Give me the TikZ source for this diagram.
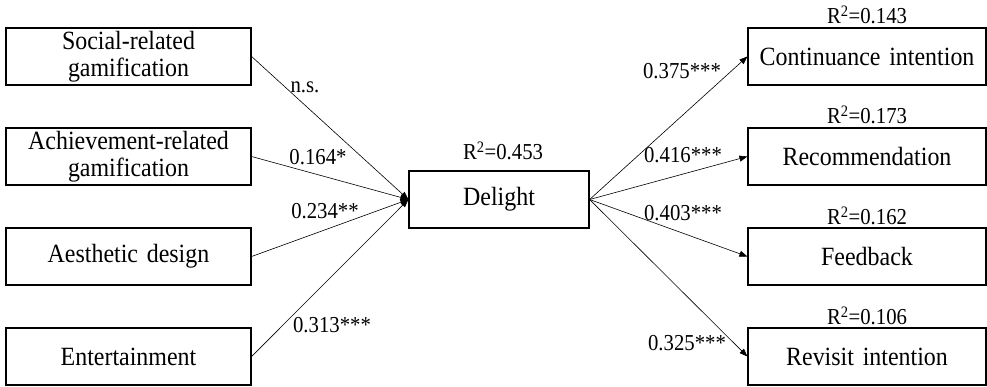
\documentclass[tikz,border=0pt]{standalone}
\usepackage{fontspec}
\setmainfont[FakeStretch=0.91]{Liberation Serif}
\usetikzlibrary{arrows.meta}
\begin{document}
\begin{tikzpicture}[x=1pt,y=-1pt,
  box/.style={draw,line width=1.2pt,minimum height=57pt,inner sep=2pt,align=center,
    font=\fontsize{26.3}{27}\selectfont},
  lbox/.style={box,minimum width=245pt,text width=238pt},
  rbox/.style={box,minimum width=238pt,text width=232pt},
  coef/.style={font=\fontsize{22.8}{26}\selectfont,inner sep=0pt},
  path/.style={draw,line width=0.6pt,-{Triangle[length=8pt,width=6pt]}}]
\useasboundingbox (0,0) rectangle (987,386);
% exogenous constructs
\node[lbox] (soc) at (128.5,56.5) {Social-related\\gamification};
\node[lbox] (ach) at (128.5,156.5) {Achievement-related\\gamification};
\node[lbox] (aes) at (128.5,256.5) {Aesthetic design};
\node[lbox] (ent) at (128.5,356.5) {Entertainment};
% mediator
\node[box,minimum width=180pt] (del) at (499,199.5) {Delight};
\node[coef] (rdel) at (503,151) {R\textsuperscript{2}=0.453};
% outcomes
\node[rbox] (con) at (867,56.5) {Continuance intention};
\node[rbox] (rec) at (867,156.5) {Recommendation};
\node[rbox] (fee) at (867,256.5) {Feedback};
\node[rbox] (rev) at (867,356.5) {Revisit intention};
\node[coef] (rcon) at (867,15) {R\textsuperscript{2}=0.143};
\node[coef] (rrec) at (867,115) {R\textsuperscript{2}=0.173};
\node[coef] (rfee) at (867,216) {R\textsuperscript{2}=0.162};
\node[coef] (rrev) at (867,316) {R\textsuperscript{2}=0.106};
% structural paths
\draw[path] (soc.east) -- (del.west);
\draw[path] (ach.east) -- (del.west);
\draw[path] (aes.east) -- (del.west);
\draw[path] (ent.east) -- (del.west);
\draw[path] (del.east) -- (con.west);
\draw[path] (del.east) -- (rec.west);
\draw[path] (del.east) -- (fee.west);
\draw[path] (del.east) -- (rev.west);
% path coefficients
\node[coef] (psoc) at (305,87) {n.s.};
\node[coef] (pach) at (318,157) {0.164*};
\node[coef] (paes) at (325,211) {0.234**};
\node[coef] (pent) at (332,325) {0.313***};
\node[coef] (pcon) at (682,71) {0.375***};
\node[coef] (prec) at (683,155) {0.416***};
\node[coef] (pfee) at (683,213) {0.403***};
\node[coef] (prev) at (687,343) {0.325***};
\end{tikzpicture}
\end{document}
